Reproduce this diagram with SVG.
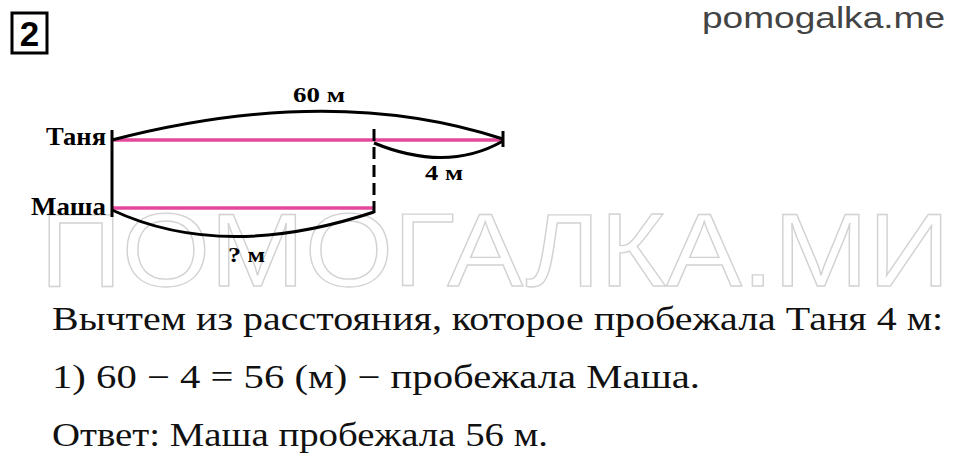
<svg xmlns="http://www.w3.org/2000/svg" width="960" height="470" viewBox="0 0 960 470">
<style>
.lbl{font-family:"Liberation Serif",serif;font-weight:bold;fill:#000}
.body{font-family:"Liberation Serif",serif;font-size:33px;fill:#111}
.pink{stroke:#e5489b;stroke-width:3.5;fill:none}
.blk{stroke:#000;stroke-width:3;fill:none}
</style>
<rect width="960" height="470" fill="#fff"/>
<g id="watermark">
<text x="40" y="286" font-family="Liberation Sans,sans-serif" font-size="104" textLength="910" lengthAdjust="spacingAndGlyphs" fill="#fff" stroke="#d2d2d2" stroke-width="1.3">ПОМОГАЛКА.МИ</text>
</g>
<g id="header">
<rect x="12" y="13" width="35" height="40" fill="none" stroke="#000" stroke-width="3"/>
<text x="29.5" y="46" text-anchor="middle" font-family="Liberation Sans,sans-serif" font-weight="bold" font-size="35">2</text>
<text x="702" y="28" font-family="Liberation Sans,sans-serif" font-size="30" textLength="243" lengthAdjust="spacingAndGlyphs" fill="#444">pomogalka.me</text>
</g>
<g id="connectors">
<line class="pink" x1="112" y1="140" x2="503" y2="140"/>
<line class="pink" x1="112" y1="208" x2="374" y2="208"/>
<line class="blk" x1="112" y1="130" x2="112" y2="217"/>
<line class="blk" x1="503" y1="131" x2="503" y2="147"/>
<line class="blk" x1="374" y1="129" x2="374" y2="217" stroke-dasharray="12,6"/>
<path class="blk" d="M112,140 Q332,83 503,139"/>
<path class="blk" d="M374,143 Q447,173 503,141"/>
<path class="blk" d="M112,210 Q223,262 374,212"/>
</g>
<g id="tanya"><text class="lbl" x="46" y="145" font-size="25" textLength="60" lengthAdjust="spacingAndGlyphs">Таня</text></g>
<g id="masha"><text class="lbl" x="31" y="215" font-size="25" textLength="75" lengthAdjust="spacingAndGlyphs">Маша</text></g>
<g id="label60"><text class="lbl" x="293" y="102" font-size="22" textLength="52" lengthAdjust="spacingAndGlyphs">60 м</text></g>
<g id="label4"><text class="lbl" x="425" y="180" font-size="22" textLength="38" lengthAdjust="spacingAndGlyphs">4 м</text></g>
<g id="labelq"><text class="lbl" x="228" y="262" font-size="22" textLength="37" lengthAdjust="spacingAndGlyphs">? м</text></g>
<g id="solution">
<text class="body" x="52" y="330" textLength="891" lengthAdjust="spacingAndGlyphs">Вычтем из расстояния, которое пробежала Таня 4 м:</text>
<text class="body" x="52" y="388" textLength="648" lengthAdjust="spacingAndGlyphs">1) 60 − 4 = 56 (м) − пробежала Маша.</text>
<text class="body" x="52" y="446" textLength="496" lengthAdjust="spacingAndGlyphs">Ответ: Маша пробежала 56 м.</text>
</g>
</svg>
